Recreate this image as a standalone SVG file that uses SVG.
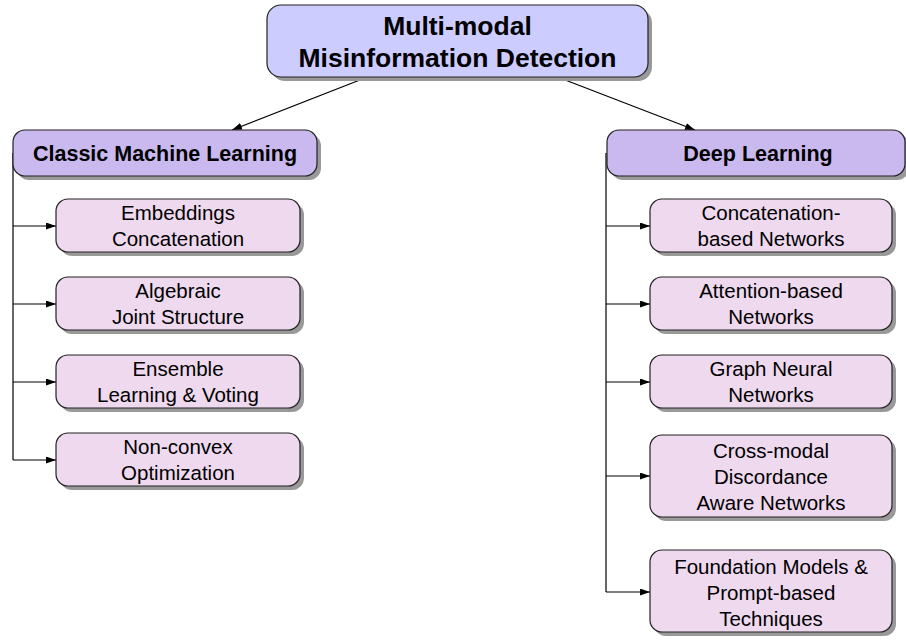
<svg xmlns="http://www.w3.org/2000/svg" width="906" height="640" viewBox="0 0 906 640">
<defs>
<marker id="ah" viewBox="0 0 10 8" refX="10" refY="4" markerWidth="10" markerHeight="7" markerUnits="userSpaceOnUse" orient="auto" preserveAspectRatio="none">
<path d="M0,0 L10,4 L0,8 Z" fill="#000"/>
</marker>
</defs>
<style>
.sh{fill:#999;}
.root{fill:#ccccff;stroke:#222;stroke-width:1.2;}
.l1{fill:#c9b9ee;stroke:#222;stroke-width:1.2;}
.l2{fill:#eed9ef;stroke:#222;stroke-width:1.2;}
.t{font-family:"Liberation Sans",Arial,sans-serif;text-anchor:middle;fill:#000;}
.tr{font-size:26.5px;font-weight:bold;}
.tb{font-size:21.5px;font-weight:bold;}
.tn{font-size:20.5px;}
.c{stroke:#000;stroke-width:1.2;fill:none;}
</style>
<g id="connectors">
<line class="c" x1="365" y1="78" x2="232" y2="130" marker-end="url(#ah)"/>
<line class="c" x1="560" y1="78" x2="695" y2="130" marker-end="url(#ah)"/>
<path class="c" d="M13,153 V460"/>
<line class="c" x1="13" y1="226" x2="56" y2="226" marker-end="url(#ah)"/>
<line class="c" x1="13" y1="304" x2="56" y2="304" marker-end="url(#ah)"/>
<line class="c" x1="13" y1="382" x2="56" y2="382" marker-end="url(#ah)"/>
<line class="c" x1="13" y1="460" x2="56" y2="460" marker-end="url(#ah)"/>
<path class="c" d="M606,153 V592"/>
<line class="c" x1="606" y1="226" x2="650" y2="226" marker-end="url(#ah)"/>
<line class="c" x1="606" y1="304" x2="650" y2="304" marker-end="url(#ah)"/>
<line class="c" x1="606" y1="382" x2="650" y2="382" marker-end="url(#ah)"/>
<line class="c" x1="606" y1="476" x2="650" y2="476" marker-end="url(#ah)"/>
<line class="c" x1="606" y1="592" x2="650" y2="592" marker-end="url(#ah)"/>
</g>
<g id="root">
<rect class="sh" x="271" y="9" width="381" height="72" rx="14"/>
<rect class="root" x="267" y="5" width="381" height="72" rx="14"/>
<text class="t tr" x="457.5" y="35">Multi-modal</text>
<text class="t tr" x="457.5" y="67">Misinformation Detection</text>
</g>
<g id="classic">
<rect class="sh" x="17" y="134" width="304" height="46" rx="12"/>
<rect class="l1" x="13" y="130" width="304" height="46" rx="12"/>
<text class="t tb" x="165" y="161">Classic Machine Learning</text>
</g>
<g id="deep">
<rect class="sh" x="611" y="134" width="298" height="46" rx="12"/>
<rect class="l1" x="607" y="130" width="298" height="46" rx="12"/>
<text class="t tb" x="758" y="161">Deep Learning</text>
</g>
<g id="embeddings">
<rect class="sh" x="60" y="203" width="244" height="53" rx="12"/>
<rect class="l2" x="56" y="199" width="244" height="53" rx="12"/>
<text class="t tn" x="178" y="220">Embeddings</text>
<text class="t tn" x="178" y="246">Concatenation</text>
</g>
<g id="algebraic">
<rect class="sh" x="60" y="281" width="244" height="53" rx="12"/>
<rect class="l2" x="56" y="277" width="244" height="53" rx="12"/>
<text class="t tn" x="178" y="298">Algebraic</text>
<text class="t tn" x="178" y="324">Joint Structure</text>
</g>
<g id="ensemble">
<rect class="sh" x="60" y="359" width="244" height="53" rx="12"/>
<rect class="l2" x="56" y="355" width="244" height="53" rx="12"/>
<text class="t tn" x="178" y="376">Ensemble</text>
<text class="t tn" x="178" y="402">Learning &amp; Voting</text>
</g>
<g id="nonconvex">
<rect class="sh" x="60" y="437" width="244" height="53" rx="12"/>
<rect class="l2" x="56" y="433" width="244" height="53" rx="12"/>
<text class="t tn" x="178" y="454">Non-convex</text>
<text class="t tn" x="178" y="480">Optimization</text>
</g>
<g id="concatnet">
<rect class="sh" x="654" y="203" width="242" height="53" rx="12"/>
<rect class="l2" x="650" y="199" width="242" height="53" rx="12"/>
<text class="t tn" x="771" y="220">Concatenation-</text>
<text class="t tn" x="771" y="246">based Networks</text>
</g>
<g id="attention">
<rect class="sh" x="654" y="281" width="242" height="53" rx="12"/>
<rect class="l2" x="650" y="277" width="242" height="53" rx="12"/>
<text class="t tn" x="771" y="298">Attention-based</text>
<text class="t tn" x="771" y="324">Networks</text>
</g>
<g id="graph">
<rect class="sh" x="654" y="359" width="242" height="53" rx="12"/>
<rect class="l2" x="650" y="355" width="242" height="53" rx="12"/>
<text class="t tn" x="771" y="376">Graph Neural</text>
<text class="t tn" x="771" y="402">Networks</text>
</g>
<g id="crossmodal">
<rect class="sh" x="654" y="439" width="242" height="82" rx="12"/>
<rect class="l2" x="650" y="435" width="242" height="82" rx="12"/>
<text class="t tn" x="771" y="457.5">Cross-modal</text>
<text class="t tn" x="771" y="483.5">Discordance</text>
<text class="t tn" x="771" y="509.5">Aware Networks</text>
</g>
<g id="foundation">
<rect class="sh" x="654" y="554" width="242" height="82" rx="12"/>
<rect class="l2" x="650" y="550" width="242" height="82" rx="12"/>
<text class="t tn" x="771" y="573.5">Foundation Models &amp;</text>
<text class="t tn" x="771" y="599.5">Prompt-based</text>
<text class="t tn" x="771" y="625.5">Techniques</text>
</g>
</svg>
